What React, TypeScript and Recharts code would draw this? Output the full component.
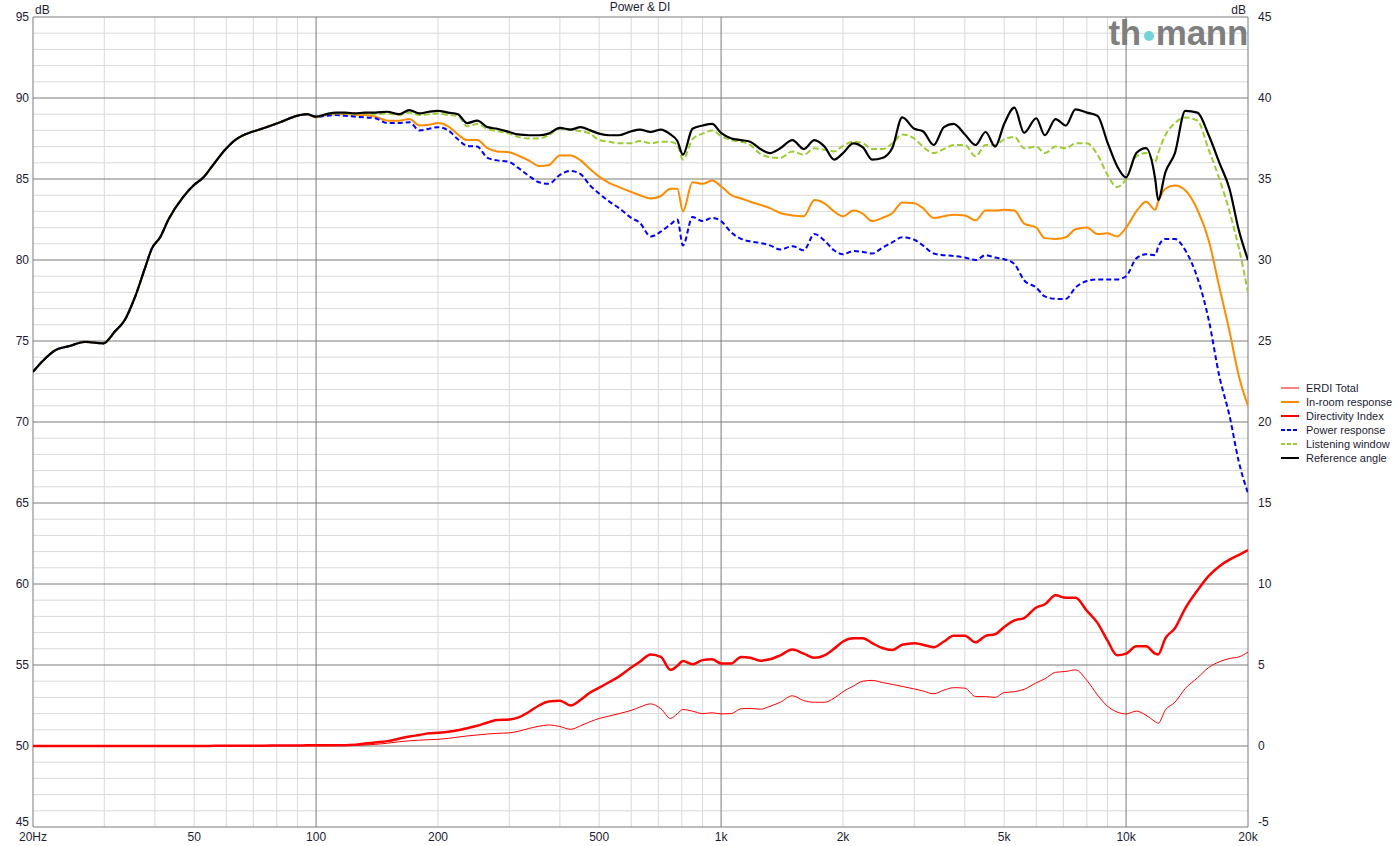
import { LineChart, Line, XAxis, YAxis, CartesianGrid } from 'recharts';

// frequency points (Hz)
const freqs = [
  20, 21.2, 22.6, 24.7, 26.9, 29.8, 31.9, 33.7, 35.7, 37.8, 39.3, 41.2, 43.2, 47, 49.8, 52.7, 56.2, 59.6, 63.1, 67.5, 73.5, 81.5, 89.7, 94.8,
  100, 106, 112, 118, 125, 132, 140, 150, 160, 170, 180, 190, 200, 212, 224, 236, 250, 265, 280, 300, 315, 335, 355, 375, 400, 425, 450, 475,
  500, 530, 560, 600, 630, 670, 710, 750, 780, 805, 850, 900, 950,
  1000, 1060, 1120, 1180, 1250, 1320, 1400, 1500, 1600, 1700, 1800, 1900, 2000, 2120, 2240, 2360, 2500, 2650, 2800, 3000, 3150, 3350, 3550, 3750,
  4000, 4250, 4500, 4750, 5000, 5300, 5600, 6000, 6300, 6700, 7100, 7500, 8000, 8500, 9000, 9500,
  10000, 10600, 11200, 11800, 12000, 12500, 13200, 14000, 15000, 16000, 17000, 18000, 19000, 20000,
];

// below 100 Hz all four SPL curves sit on top of each other
const bassRolloff = [
  73.1, 73.8, 74.4, 74.7, 74.95, 74.85, 75.6, 76.3, 77.7, 79.5, 80.7, 81.4, 82.5, 83.9, 84.6, 85.1, 86.0, 86.8, 87.4, 87.8, 88.1, 88.5, 88.9, 89.0,
];

const referenceAngle = [
  ...bassRolloff,
  88.85, 89.0, 89.1, 89.1, 89.05, 89.1, 89.1, 89.15, 89.0, 89.25, 89.05, 89.15, 89.2, 89.1, 89.0, 88.45, 88.6, 88.2, 88.1, 87.9,
  87.75, 87.7, 87.7, 87.8, 88.15, 88.05, 88.2, 88.0, 87.8, 87.7, 87.7, 87.95, 88.05, 87.9, 88.05, 87.75, 87.35, 86.5, 88.1, 88.3, 88.4,
  87.85, 87.5, 87.4, 87.3, 86.85, 86.6, 86.9, 87.4, 86.85, 87.4, 87.0, 86.2, 86.6, 87.2, 86.95, 86.2, 86.3, 86.95, 88.8, 88.1,
  87.95, 87.1, 88.2, 88.4, 87.75, 87.1, 87.9, 87.0, 88.4, 89.4, 87.85, 88.75, 87.7, 88.7, 88.3, 89.3, 89.1, 88.9, 87.25, 85.8,
  85.1, 86.6, 86.9, 85.0, 83.7, 85.4, 86.6, 89.2, 89.1, 87.7, 86.0, 84.4, 81.8, 80.0,
];

const listeningWindow = [
  ...bassRolloff,
  88.85, 89.0, 89.05, 89.05, 89.0, 89.05, 89.0, 89.05, 88.95, 89.1, 88.95, 89.0, 89.05, 88.95, 88.9, 88.25, 88.4, 88.1, 87.95, 87.8,
  87.6, 87.5, 87.5, 87.7, 88.1, 88.05, 87.95, 87.8, 87.4, 87.3, 87.2, 87.2, 87.35, 87.2, 87.3, 87.3, 87.1, 86.2, 87.45, 87.8, 88.0,
  87.65, 87.4, 87.3, 87.1, 86.55, 86.35, 86.3, 86.7, 86.5, 86.9, 86.8, 86.7, 87.05, 87.3, 87.2, 86.85, 86.85, 87.2, 87.75, 87.5,
  87.0, 86.6, 86.85, 87.1, 87.1, 86.4, 87.1, 87.1, 87.45, 87.6, 86.9, 87.0, 86.6, 87.0, 86.9, 87.2, 87.2, 86.5, 85.25, 84.5,
  85.0, 86.4, 86.6, 86.05, 86.6, 87.7, 88.45, 88.8, 88.6, 86.8, 85.0, 83.0, 80.7, 78.0,
];

const inRoomResponse = [
  ...bassRolloff,
  88.8, 88.95, 89.0, 89.0, 88.95, 88.95, 88.85, 88.6, 88.6, 88.7, 88.3, 88.35, 88.45, 88.25, 87.75, 87.4, 87.4, 86.9, 86.7, 86.65,
  86.45, 86.15, 85.8, 85.85, 86.45, 86.45, 86.15, 85.6, 85.15, 84.75, 84.5, 84.2, 84.0, 83.8, 83.95, 84.4, 84.4, 83.0, 84.8, 84.7, 84.9,
  84.55, 84.0, 83.8, 83.6, 83.4, 83.2, 82.9, 82.75, 82.7, 83.7, 83.5, 83.0, 82.7, 83.05, 82.85, 82.4, 82.6, 82.9, 83.55, 83.5,
  83.2, 82.6, 82.7, 82.8, 82.75, 82.45, 83.05, 83.05, 83.1, 83.05, 82.25, 82.0, 81.35, 81.3, 81.4, 81.9, 82.0, 81.6, 81.65, 81.45,
  82.0, 83.0, 83.6, 83.1, 83.6, 84.4, 84.6, 84.3, 83.1, 81.2, 78.3, 75.6, 72.8, 71.0,
];

const powerResponse = [
  ...bassRolloff,
  88.85, 88.9, 88.95, 88.9, 88.85, 88.8, 88.75, 88.45, 88.45, 88.5, 88.0, 88.1, 88.2, 88.0, 87.45, 87.05, 87.0, 86.3, 86.15, 86.05,
  85.7, 85.2, 84.8, 84.7, 85.25, 85.5, 85.3, 84.6, 84.1, 83.6, 83.2, 82.6, 82.3, 81.45, 81.75, 82.2, 82.5, 80.9, 82.65, 82.4, 82.6,
  82.4, 81.7, 81.3, 81.15, 81.05, 80.9, 80.65, 80.85, 80.6, 81.6, 81.2, 80.6, 80.35, 80.55, 80.5, 80.4, 80.75, 81.1, 81.4, 81.25,
  80.9, 80.4, 80.3, 80.25, 80.15, 80.0, 80.3, 80.15, 80.05, 79.75, 78.75, 78.3, 77.75, 77.6, 77.6, 78.3, 78.7, 78.8, 78.8, 78.8,
  79.0, 80.1, 80.35, 80.3, 80.8, 81.3, 81.3, 80.6, 78.9, 76.3, 72.8, 70.4, 67.5, 65.6,
];

// DI curves, read on the right-hand axis
const directivityIndex = [
  0, 0, 0, 0, 0, 0, 0, 0, 0, 0, 0, 0, 0, 0, 0, 0, 0.01, 0.01, 0.01, 0.02, 0.02, 0.03, 0.03, 0.04,
  0.04, 0.04, 0.05, 0.05, 0.08, 0.15, 0.22, 0.3, 0.45, 0.58, 0.68, 0.78, 0.82, 0.88, 0.97, 1.1, 1.25, 1.45, 1.6, 1.63,
  1.75, 2.1, 2.5, 2.75, 2.8, 2.5, 2.85, 3.3, 3.6, 3.95, 4.3, 4.85, 5.2, 5.65, 5.5, 4.7, 4.95, 5.25, 5.05, 5.3, 5.35,
  5.1, 5.1, 5.5, 5.45, 5.27, 5.35, 5.6, 5.95, 5.7, 5.45, 5.6, 6.0, 6.45, 6.65, 6.65, 6.35, 6.05, 5.93, 6.25, 6.35,
  6.25, 6.1, 6.45, 6.8, 6.8, 6.4, 6.8, 6.9, 7.35, 7.75, 7.9, 8.55, 8.75, 9.3, 9.15, 9.15, 8.35, 7.6, 6.5, 5.6,
  5.7, 6.15, 6.15, 5.7, 5.65, 6.65, 7.27, 8.5, 9.6, 10.5, 11.1, 11.5, 11.8, 12.1,
];

const erdiTotal = [
  0, 0, 0, 0, 0, 0, 0, 0, 0, 0, 0, 0, 0, 0, 0, 0, 0, 0, 0.01, 0.01, 0.01, 0.02, 0.02, 0.02,
  0.02, 0.02, 0.03, 0.04, 0.05, 0.06, 0.1, 0.17, 0.26, 0.32, 0.36, 0.39, 0.41, 0.47, 0.55, 0.62, 0.68, 0.74, 0.78, 0.81,
  0.9, 1.08, 1.22, 1.3, 1.2, 1.03, 1.25, 1.5, 1.7, 1.85, 2.0, 2.2, 2.4, 2.6, 2.3, 1.7, 2.0, 2.25, 2.15, 2.0, 2.05,
  1.98, 2.0, 2.3, 2.32, 2.27, 2.45, 2.7, 3.1, 2.8, 2.7, 2.7, 2.95, 3.35, 3.7, 4.0, 4.05, 3.92, 3.8, 3.68, 3.52,
  3.4, 3.22, 3.45, 3.6, 3.57, 3.05, 3.05, 3.0, 3.3, 3.35, 3.5, 3.9, 4.15, 4.55, 4.6, 4.7, 4.05, 3.15, 2.45, 2.1,
  1.98, 2.15, 1.9, 1.5, 1.4, 2.22, 2.7, 3.55, 4.2, 4.85, 5.2, 5.4, 5.5, 5.8,
];

const freqTicks = [20, 50, 100, 200, 500, 1000, 2000, 5000, 10000, 20000];
const splTicks = [45, 50, 55, 60, 65, 70, 75, 80, 85, 90, 95];
const diTicks = [-5, 0, 5, 10, 15, 20, 25, 30, 35, 40, 45];
const majorFreqLines = [20, 100, 1000, 10000, 20000];
const minorFreqLines = [
  30, 40, 50, 60, 70, 80, 90, 200, 300, 400, 500, 600, 700, 800, 900,
  2000, 3000, 4000, 5000, 6000, 7000, 8000, 9000,
];
const minorDbLines = [
  46, 47, 48, 49, 51, 52, 53, 54, 56, 57, 58, 59, 61, 62, 63, 64, 66, 67, 68, 69, 71, 72, 73, 74,
  76, 77, 78, 79, 81, 82, 83, 84, 86, 87, 88, 89, 91, 92, 93, 94,
];

const table = freqs.map((f, i) => ({
  f,
  erdi: erdiTotal[i],
  inRoom: inRoomResponse[i],
  di: directivityIndex[i],
  power: powerResponse[i],
  listening: listeningWindow[i],
  reference: referenceAngle[i],
}));

const series = [
  { key: 'erdi', name: 'ERDI Total', color: '#ff0000', width: 1, dash: undefined, axis: 'di' },
  { key: 'inRoom', name: 'In-room response', color: '#ff8c00', width: 2, dash: undefined, axis: 'spl' },
  { key: 'di', name: 'Directivity Index', color: '#ff0000', width: 2.5, dash: undefined, axis: 'di' },
  { key: 'power', name: 'Power response', color: '#0000ff', width: 2, dash: '5 3', axis: 'spl' },
  { key: 'listening', name: 'Listening window', color: '#9acd32', width: 2, dash: '6 3', axis: 'spl' },
  { key: 'reference', name: 'Reference angle', color: '#000000', width: 2.2, dash: undefined, axis: 'spl' },
];

const FONT = '"Liberation Sans", Arial, sans-serif';
const TEXT = '#1c1c34';

const fmtFreq = (f: number) => (f === 20 ? '20Hz' : f >= 1000 ? `${f / 1000}k` : `${f}`);

const SideTick = (props: any) => {
  const { x, y, payload, textAnchor, bottomValue } = props;
  const shift = payload.value === bottomValue ? -5 : 0;
  return (
    <text x={x} y={y + 4 + shift} textAnchor={textAnchor} fontSize={12} fontFamily={FONT} fill={TEXT}>
      {payload.value}
    </text>
  );
};

const LegendBox = () => (
  <div style={{ position: 'absolute', left: 1281, top: 381, fontFamily: FONT, fontSize: 11, color: TEXT }}>
    {series.map((s) => (
      <div key={s.key} style={{ display: 'flex', alignItems: 'center', height: 14 }}>
        <svg width={20} height={14} style={{ marginRight: 5 }}>
          <line x1={0} x2={18} y1={7} y2={7} stroke={s.color} strokeWidth={s.width === 1 ? 1 : 2} strokeDasharray={s.dash ? '4 2' : undefined} />
        </svg>
        <span>{s.name}</span>
      </div>
    ))}
  </div>
);

export default function App() {
  return (
    <div style={{ position: 'absolute', left: 0, top: 0, width: 1400, height: 846, background: '#fff' }}>
      <LineChart width={1400} height={846} data={table} margin={{ top: 17, right: 0, bottom: 0, left: 0 }}>
        <CartesianGrid yAxisId="spl" horizontalValues={minorDbLines} verticalValues={minorFreqLines} stroke="#d9d9d9" />
        <CartesianGrid yAxisId="spl" horizontalValues={splTicks} verticalValues={majorFreqLines} stroke="#7a7a7a" />
        <XAxis
          dataKey="f"
          type="number"
          scale="log"
          domain={[20, 20000]}
          allowDataOverflow
          ticks={freqTicks}
          interval={0}
          tickFormatter={fmtFreq}
          axisLine={false}
          tickLine={false}
          tickSize={0}
          tickMargin={5}
          height={19}
          tick={{ fontSize: 12, fontFamily: FONT, fill: TEXT }}
        />
        <YAxis
          yAxisId="spl"
          type="number"
          domain={[45, 95]}
          ticks={splTicks}
          interval={0}
          width={33}
          axisLine={false}
          tickLine={false}
          tickSize={0}
          tickMargin={4}
          tick={(p: any) => <SideTick {...p} bottomValue={45} />}
        />
        <YAxis
          yAxisId="di"
          orientation="right"
          type="number"
          domain={[-5, 45]}
          ticks={diTicks}
          interval={0}
          width={152}
          axisLine={false}
          tickLine={false}
          tickSize={0}
          tickMargin={10}
          tick={(p: any) => <SideTick {...p} bottomValue={-5} />}
        />
        {series.map((s) => (
          <Line
            key={s.key}
            yAxisId={s.axis}
            dataKey={s.key}
            name={s.name}
            type="monotone"
            stroke={s.color}
            strokeWidth={s.width}
            strokeDasharray={s.dash}
            dot={false}
            activeDot={false}
            isAnimationActive={false}
          />
        ))}
      </LineChart>

      <div style={{ position: 'absolute', left: 540, width: 200, top: 0, textAlign: 'center', fontFamily: FONT, fontSize: 12, color: TEXT }}>
        Power &amp; DI
      </div>
      <div style={{ position: 'absolute', left: 35, top: 3, fontFamily: FONT, fontSize: 12, lineHeight: '14px', color: TEXT }}>dB</div>
      <div style={{ position: 'absolute', left: 1226, width: 20, top: 3, textAlign: 'right', fontFamily: FONT, fontSize: 12, lineHeight: '14px', color: TEXT }}>dB</div>

      <div
        style={{
          position: 'absolute',
          left: 1040,
          width: 208,
          top: 20,
          height: 27,
          overflow: 'visible',
          textAlign: 'right',
          fontFamily: FONT,
          fontWeight: 'bold',
          fontSize: 35,
          lineHeight: '26px',
          color: '#7f7f7f',
          letterSpacing: -0.3,
          whiteSpace: 'nowrap',
        }}
      >
        th
        <span
          style={{
            display: 'inline-block',
            width: 10,
            height: 10,
            borderRadius: 5,
            background: '#72d3dc',
            margin: '0 2px 0 3px',
            verticalAlign: 'middle',
          }}
        />
        mann
      </div>

      <LegendBox />
    </div>
  );
}
